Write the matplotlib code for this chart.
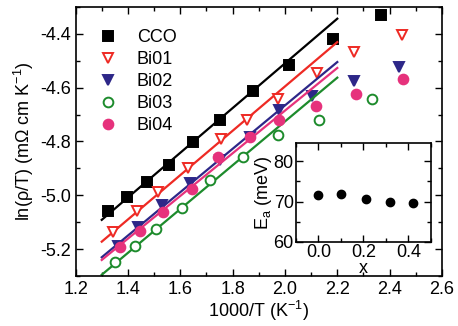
import matplotlib

matplotlib.use("Agg")

import matplotlib.pyplot as plt
from matplotlib.ticker import MultipleLocator

plt.rcParams["font.family"] = ["Liberation Sans", "DejaVu Sans"]
plt.rcParams["mathtext.default"] = "regular"
plt.rcParams["axes.unicode_minus"] = False
plt.rcParams["font.size"] = 13

# 1000/T (K^-1) and ln(rho/T) for each sample
CCO_X = [1.325, 1.395, 1.472, 1.557, 1.650, 1.752, 1.877, 2.016, 2.182, 2.366]
CCO_Y = [-5.057, -5.007, -4.952, -4.886, -4.801, -4.719, -4.612, -4.515, -4.419, -4.332]

BI01_X = [1.344, 1.434, 1.516, 1.628, 1.754, 1.856, 1.974, 2.121, 2.263, 2.446]
BI01_Y = [-5.135, -5.058, -4.987, -4.900, -4.789, -4.719, -4.641, -4.546, -4.469, -4.403]

BI02_X = [1.363, 1.440, 1.529, 1.637, 1.752, 1.866, 1.978, 2.102, 2.263, 2.435]
BI02_Y = [-5.188, -5.116, -5.036, -4.956, -4.869, -4.785, -4.684, -4.632, -4.577, -4.525]

BI03_X = [1.351, 1.427, 1.506, 1.608, 1.713, 1.840, 1.974, 2.131, 2.332]
BI03_Y = [-5.246, -5.188, -5.125, -5.048, -4.943, -4.857, -4.777, -4.719, -4.643]

BI04_X = [1.370, 1.446, 1.535, 1.643, 1.745, 1.866, 1.978, 2.118, 2.271, 2.450]
BI04_Y = [-5.191, -5.132, -5.061, -4.978, -4.857, -4.783, -4.719, -4.669, -4.625, -4.569]

# Arrhenius fits over the high temperature range
FIT_X = [1.3, 2.2]
CCO_FIT = [-5.091, -4.344]
BI01_FIT = [-5.172, -4.431]
BI02_FIT = [-5.230, -4.505]
BI03_FIT = [-5.295, -4.563]
BI04_FIT = [-5.240, -4.527]

# activation energy vs Bi content
BI_CONTENT = [0.0, 0.1, 0.21, 0.32, 0.42]
E_A = [71.75, 72.0, 70.75, 70.0, 69.6]

SERIES = [
    ("CCO", CCO_X, CCO_Y, CCO_FIT, "black", "s", True),
    ("Bi01", BI01_X, BI01_Y, BI01_FIT, "#ee2a24", "v", False),
    ("Bi02", BI02_X, BI02_Y, BI02_FIT, "#2d2788", "v", True),
    ("Bi03", BI03_X, BI03_Y, BI03_FIT, "#1d8b2c", "o", False),
    ("Bi04", BI04_X, BI04_Y, BI04_FIT, "#e6327c", "o", True),
]


def style_ticks(ax) -> None:
    ax.tick_params(which="both", direction="in", top=True, right=True, width=1.0)
    ax.tick_params(which="major", length=5)
    ax.tick_params(which="minor", length=3)
    for spine in ax.spines.values():
        spine.set_linewidth(1.2)


def main() -> None:
    fig = plt.figure(figsize=(4.58, 3.26), dpi=100)
    ax = fig.add_axes([0.165, 0.153, 0.800, 0.826])

    for label, xs, ys, fit, color, marker, filled in SERIES:
        ax.plot(FIT_X, fit, color=color, lw=1.6)
        ax.plot(
            xs,
            ys,
            ls="none",
            marker=marker,
            ms=7,
            mew=1.4,
            color=color,
            mfc=color if filled else "white",
            label=label,
        )

    ax.set_xlim(1.2, 2.6)
    ax.set_ylim(-5.3, -4.3)
    ax.xaxis.set_major_locator(MultipleLocator(0.2))
    ax.xaxis.set_minor_locator(MultipleLocator(0.1))
    ax.yaxis.set_major_locator(MultipleLocator(0.2))
    ax.yaxis.set_minor_locator(MultipleLocator(0.1))
    style_ticks(ax)
    ax.set_xlabel("1000/T (K$^{-1}$)", labelpad=1)
    ax.set_ylabel("ln(ρ/T) (mΩ cm K$^{-1}$)", labelpad=3)

    ax.legend(
        loc="upper left",
        bbox_to_anchor=(0.064, 0.918),
        frameon=False,
        numpoints=1,
        handlelength=1.0,
        handletextpad=1.1,
        labelspacing=0.28,
        borderaxespad=0,
        borderpad=0,
    )

    # inset: activation energy
    ins = fig.add_axes([0.646, 0.258, 0.295, 0.303])
    ins.plot(BI_CONTENT, E_A, ls="none", marker="o", ms=6, color="black")
    ins.set_xlim(-0.1, 0.5)
    ins.set_ylim(60, 84.5)
    ins.xaxis.set_major_locator(MultipleLocator(0.2))
    ins.xaxis.set_minor_locator(MultipleLocator(0.1))
    ins.yaxis.set_major_locator(MultipleLocator(10))
    ins.yaxis.set_minor_locator(MultipleLocator(5))
    style_ticks(ins)
    ins.tick_params(which="both", pad=1.5)
    ins.set_xlabel("x", labelpad=-1)
    ins.set_ylabel("E$_a$ (meV)", labelpad=0)

    fig.savefig("out.png", dpi=100)


if __name__ == "__main__":
    main()
